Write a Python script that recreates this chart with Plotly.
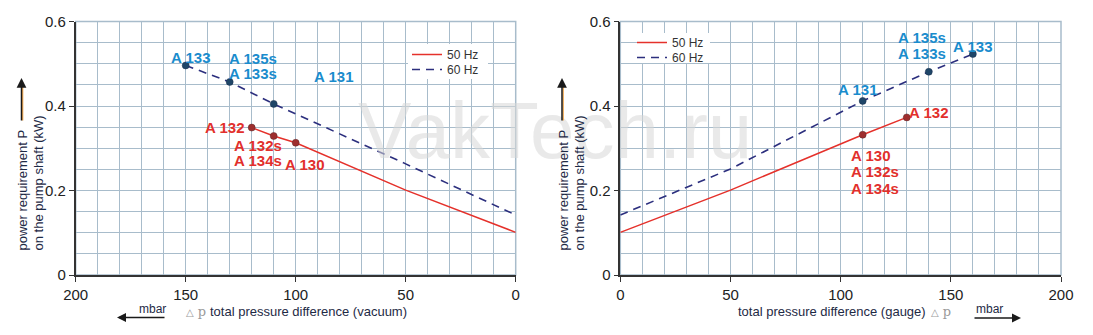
import plotly.graph_objects as go

# ---------------- data ----------------
# left chart: vacuum (x reversed)
vac_x_50 = [120, 110, 100, 50, 0]
vac_y_50 = [0.349, 0.329, 0.313, 0.201, 0.101]
vac_x_60 = [150, 130, 110, 50, 0]
vac_y_60 = [0.496, 0.457, 0.405, 0.263, 0.142]
vac_pts_50_x = [120, 110, 100]
vac_pts_50_y = [0.349, 0.329, 0.313]
vac_pts_60_x = [150, 130, 110]
vac_pts_60_y = [0.496, 0.457, 0.405]

# right chart: gauge
gau_x_50 = [0, 50, 110, 130]
gau_y_50 = [0.101, 0.201, 0.332, 0.373]
gau_x_60 = [0, 50, 110, 140, 160]
gau_y_60 = [0.142, 0.251, 0.412, 0.481, 0.523]
gau_pts_50_x = [110, 130]
gau_pts_50_y = [0.332, 0.373]
gau_pts_60_x = [110, 140, 160]
gau_pts_60_y = [0.412, 0.481, 0.523]

x_ticks = [0, 50, 100, 150, 200]
y_ticks = [0, 0.2, 0.4, 0.6]

RED = "#e5312b"
NAVY = "#2c2f7e"
BLUE_TXT = "#1a8ccd"
RED_TXT = "#e2302c"
GRID = "#a8bccb"
TXT = "#222222"
TITLE = "#1e2a45"
FONT = "Liberation Sans, Arial, sans-serif"

W, H = 1093, 335

fig = go.Figure()

def add_lines(xa, ya, x50, y50, x60, y60, px50, py50, px60, py60, lg50, lg60):
    fig.add_trace(go.Scatter(x=x50, y=y50, mode="lines", name="50 Hz",
                             line=dict(color=RED, width=1.5),
                             xaxis=xa, yaxis=ya, legend=lg50))
    fig.add_trace(go.Scatter(x=x60, y=y60, mode="lines", name="60 Hz",
                             line=dict(color=NAVY, width=1.6, dash="8px,6px"),
                             xaxis=xa, yaxis=ya, legend=lg60))
    fig.add_trace(go.Scatter(x=px50, y=py50, mode="markers", showlegend=False,
                             marker=dict(color="#9e2e2e", size=7,
                                         line=dict(color="#5a2a2a", width=0.5)),
                             xaxis=xa, yaxis=ya))
    fig.add_trace(go.Scatter(x=px60, y=py60, mode="markers", showlegend=False,
                             marker=dict(color="#1f4668", size=7,
                                         line=dict(color="#1a2f4a", width=0.5)),
                             xaxis=xa, yaxis=ya))

add_lines("x", "y", vac_x_50, vac_y_50, vac_x_60, vac_y_60,
          vac_pts_50_x, vac_pts_50_y, vac_pts_60_x, vac_pts_60_y, "legend", "legend2")
add_lines("x2", "y2", gau_x_50, gau_y_50, gau_x_60, gau_y_60,
          gau_pts_50_x, gau_pts_50_y, gau_pts_60_x, gau_pts_60_y, "legend3", "legend4")

def xaxis_cfg(domain, rng, anchor):
    return dict(domain=domain, range=rng, anchor=anchor, automargin=False,
                tickvals=x_ticks, ticktext=[str(v) for v in x_ticks],
                ticks="outside", ticklen=5, tickcolor="#333", tickwidth=1.2,
                showline=True, linecolor="#333", linewidth=1.6,
                showgrid=True, gridcolor=GRID, gridwidth=1.3,
                minor=dict(dtick=10, showgrid=True, gridcolor=GRID, gridwidth=1.3),
                zeroline=False,
                tickfont=dict(family=FONT, size=15, color=TXT))

def yaxis_cfg(domain, anchor):
    return dict(domain=domain, range=[0, 0.6], anchor=anchor, automargin=False,
                tickvals=y_ticks, ticktext=["0", "0.2", "0.4", "0.6"],
                ticks="outside", ticklen=5, tickcolor="#333", tickwidth=1.2,
                showline=True, linecolor="#333", linewidth=1.6,
                showgrid=True, gridcolor=GRID, gridwidth=1.3,
                minor=dict(dtick=0.05, showgrid=True, gridcolor=GRID, gridwidth=1.3),
                zeroline=False,
                tickfont=dict(family=FONT, size=15, color=TXT))

xl0, xl1 = 75.7 / W, 515.7 / W
xr0, xr1 = 620.3 / W, 1061 / W
y0, y1 = (H - 275) / H, (H - 21.5) / H

def leg(xpx, ypx):
    return dict(x=xpx / W, y=1 - ypx / H, xanchor="left", yanchor="top",
                bgcolor="rgba(0,0,0,0)", font=dict(family=FONT, size=12, color="#333"),
                itemwidth=30, tracegroupgap=0)

fig.update_layout(
    width=W, height=H,
    margin=dict(l=0, r=0, t=0, b=0, autoexpand=False),
    paper_bgcolor="white", plot_bgcolor="white",
    xaxis=xaxis_cfg([xl0, xl1], [200, 0], "y"),
    yaxis=yaxis_cfg([y0, y1], "x"),
    xaxis2=xaxis_cfg([xr0, xr1], [0, 200], "y2"),
    yaxis2=yaxis_cfg([y0, y1], "x2"),
    legend=leg(407, 40),
    legend2=leg(407, 55),
    legend3=leg(632, 28),
    legend4=leg(632, 43),
    showlegend=True,
)

# frame (top/right borders in grid colour)
for xr, yr in (("x domain", "y domain"), ("x2 domain", "y2 domain")):
    fig.add_shape(type="rect", xref=xr, yref=yr, x0=0, x1=1, y0=0, y1=1,
                  line=dict(color=GRID, width=1.5), layer="below")

# white legend backgrounds
for bx0, by0, bx1, by1 in ((408, 44, 488, 79), (638, 33, 710, 63)):
    fig.add_shape(type="rect", xref="paper", yref="paper",
                  x0=bx0 / W, x1=bx1 / W, y0=1 - by1 / H, y1=1 - by0 / H,
                  fillcolor="white", line=dict(width=0), layer="above")

ann = []

def lab(text, x, y, color, xref="x", yref="y", xanchor="center"):
    ann.append(dict(text=text, x=x, y=y, xref=xref, yref=yref, showarrow=False,
                    xanchor=xanchor, yanchor="middle",
                    font=dict(family=FONT, size=15, color=color, weight="bold")))

# left labels
lab("A 133", 148, 0.514, BLUE_TXT)
lab("A 135s", 119.4, 0.5136, BLUE_TXT)
lab("A 133s", 119.4, 0.478, BLUE_TXT)
lab("A 131", 83, 0.469, BLUE_TXT)
lab("A 132", 132.5, 0.35, RED_TXT)
lab("A 132s", 117, 0.3077, RED_TXT)
lab("A 134s", 117, 0.272, RED_TXT)
lab("A 130", 96.2, 0.261, RED_TXT)
# right labels
lab("A 135s", 136.9, 0.561, BLUE_TXT, "x2", "y2")
lab("A 133s", 136.9, 0.5254, BLUE_TXT, "x2", "y2")
lab("A 133", 160, 0.542, BLUE_TXT, "x2", "y2")
lab("A 131", 107.8, 0.44, BLUE_TXT, "x2", "y2")
lab("A 132", 139.8, 0.384, RED_TXT, "x2", "y2")
lab("A 130", 103.6, 0.284, RED_TXT, "x2", "y2", "left")
lab("A 132s", 103.6, 0.2438, RED_TXT, "x2", "y2", "left")
lab("A 134s", 103.6, 0.2059, RED_TXT, "x2", "y2", "left")

# watermark
ann.append(dict(text="VakTech.ru", x=555 / W, y=1 - 130 / H, xref="paper", yref="paper",
                showarrow=False, xanchor="center", yanchor="middle",
                font=dict(family=FONT, size=80, color="rgba(215,215,215,0.55)")))

# y-axis titles and arrows
for cx, arrow_x in ((30 / W, 21.5 / W), (571 / W, 562 / W)):
    ann.append(dict(text="power requirement P<br>on the pump shaft (kW)",
                    x=cx, y=(H - 253) / H, xref="paper", yref="paper",
                    showarrow=False, textangle=-90, xanchor="center", yanchor="bottom",
                    align="left",
                    font=dict(family=FONT, size=13, color=TITLE)))
    ann.append(dict(text="", x=arrow_x + 1.2 / W, y=1 - 82 / H, ax=0, ay=40,
                    xref="paper", yref="paper",
                    showarrow=True, arrowhead=0, arrowwidth=1.2,
                    arrowcolor="#f0a040"))
    ann.append(dict(text="", x=arrow_x, y=1 - 78 / H, ax=0, ay=44,
                    xref="paper", yref="paper",
                    showarrow=True, arrowhead=2, arrowsize=1.3, arrowwidth=1.5,
                    arrowcolor="#1a1a1a"))

# x-axis titles
ann.append(dict(text="total pressure difference (vacuum)", x=208 / W, y=1 - 311 / H,
                xref="paper", yref="paper", showarrow=False, xanchor="left",
                yanchor="middle", font=dict(family=FONT, size=13, color=TITLE)))
ann.append(dict(text="total pressure difference (gauge)", x=736 / W, y=1 - 311 / H,
                xref="paper", yref="paper", showarrow=False, xanchor="left",
                yanchor="middle", font=dict(family=FONT, size=13, color=TITLE)))
for dx in (184 / W, 929 / W):
    ann.append(dict(text="<span style='font-size:10px'>\u25b3</span> p", x=dx, y=1 - 311 / H,
                    xref="paper", yref="paper",
                    showarrow=False, xanchor="left", yanchor="middle",
                    font=dict(family="DejaVu Serif, serif", size=13, color="#9a9a9a")))

# mbar labels with arrows
ann.append(dict(text="mbar", x=152.5 / W, y=1 - 309 / H, xref="paper", yref="paper",
                showarrow=False, xanchor="center", yanchor="middle",
                font=dict(family=FONT, size=12, color=TITLE)))
ann.append(dict(text="", x=117 / W, y=1 - 317.5 / H, ax=49, ay=0,
                xref="paper", yref="paper",
                showarrow=True, arrowhead=2, arrowsize=1.2, arrowwidth=1.5,
                arrowcolor="#1a1a1a"))
ann.append(dict(text="mbar", x=989.5 / W, y=1 - 309 / H, xref="paper", yref="paper",
                showarrow=False, xanchor="center", yanchor="middle",
                font=dict(family=FONT, size=12, color=TITLE)))
ann.append(dict(text="", x=1021 / W, y=1 - 318 / H, ax=-48, ay=0,
                xref="paper", yref="paper",
                showarrow=True, arrowhead=2, arrowsize=1.2, arrowwidth=1.5,
                arrowcolor="#1a1a1a"))

fig.update_layout(annotations=ann)

fig.write_html("out.html")
